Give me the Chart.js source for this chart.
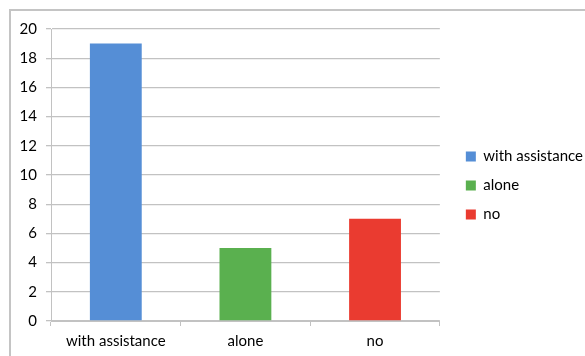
<!DOCTYPE html>
<html>
<head>
<meta charset="utf-8">
<script src="https://cdn.jsdelivr.net/npm/chart.js@4.4.1/dist/chart.umd.min.js"></script>
<style>
  html, body { margin: 0; padding: 0; background: #fff; overflow: hidden; }
  #frame {
    position: absolute; left: 9px; top: 9px;
    border-left: 2px solid #c4c4c4; border-top: 2px solid #c4c4c4;
  }
  canvas { display: block; }
</style>
</head>
<body>
<div id="frame">
  <canvas id="chart" width="582" height="345"></canvas>
</div>
<script>
const categories = ['with assistance', 'alone', 'no'];
const counts = [19, 5, 7];
const barColors = ['#558ED6', '#5AB04F', '#EA3B30'];
const yTicks = { min: 0, max: 20, step: 2 };

const font = { family: 'Lato, "Noto Sans", sans-serif', size: 15 };
const textColor = '#000';
const gridColor = '#c2c2c2';

// invisible strips used only to space the plot
const spacer = size => ({
    afterFit: s => { if (s.isHorizontal()) s.height = size; else s.width = size; },
    grid: { display: false },
    border: { display: false },
    ticks: { display: false }
});

new Chart(document.getElementById('chart'), {
    type: 'bar',
    data: {
        labels: categories,
        datasets: [{
            data: counts,
            backgroundColor: barColors,
            categoryPercentage: 1,
            barPercentage: 0.4
        }]
    },
    options: {
        responsive: false,
        animation: false,
        layout: { padding: { left: 0, top: 4, bottom: 0, right: 0 } },
        plugins: {
            tooltip: { enabled: false },
            legend: {
                position: 'right',
                maxWidth: 400,
                labels: {
                    color: textColor,
                    font: font,
                    boxWidth: 10,
                    boxHeight: 10,
                    padding: 14,
                    generateLabels: chart => chart.data.labels.map((label, i) => ({
                        text: label,
                        fillStyle: barColors[i],
                        strokeStyle: barColors[i],
                        lineWidth: 0,
                        index: i
                    }))
                }
            }
        },
        scales: {
            x: {
                grid: { drawOnChartArea: false, drawTicks: true, tickLength: 5, color: gridColor },
                border: { display: true, color: gridColor, width: 1 },
                ticks: { color: textColor, font: font, padding: 6 }
            },
            y: {
                min: yTicks.min,
                max: yTicks.max,
                afterFit: s => { s.width = 40; },
                grid: { color: gridColor, tickLength: 5, lineWidth: 1.3 },
                border: { display: true, color: gridColor, width: 1 },
                ticks: { stepSize: yTicks.step, color: textColor, font: font, padding: 9 }
            },
            gapTop: { position: 'top', ...spacer(6) },
            gapRight: { position: 'right', ...spacer(12) }
        }
    }
});
</script>
</body>
</html>
